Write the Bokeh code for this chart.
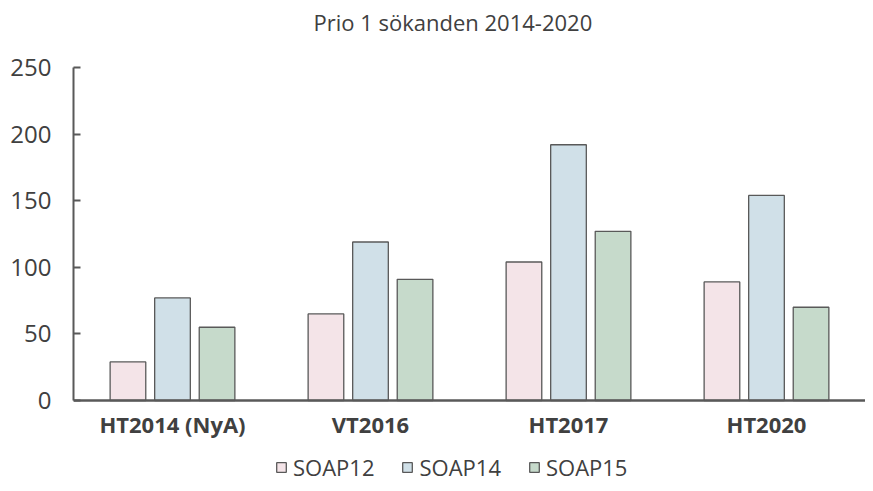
from bokeh.plotting import figure
from bokeh.models import ColumnDataSource, FactorRange, Legend, LegendItem, Range1d, Label
from bokeh.transform import dodge
from bokeh.embed import file_html
from bokeh.resources import INLINE

categories = ["HT2014 (NyA)", "VT2016", "HT2017", "HT2020"]
soap12 = [29, 65, 104, 89]
soap14 = [77, 119, 192, 154]
soap15 = [55, 91, 127, 70]
series_names = ["SOAP12", "SOAP14", "SOAP15"]
y_ticks = [0, 50, 100, 150, 200, 250]
title_text = "Prio 1 sökanden 2014-2020"

src = ColumnDataSource(dict(cat=categories, s12=soap12, s14=soap14, s15=soap15))

W, H = 865, 483
p = figure(width=W, height=H, x_range=FactorRange(*categories, range_padding=0),
           y_range=Range1d(-62.3, 300.3), output_backend="svg", toolbar_location=None,
           min_border_left=73, min_border_right=0, min_border_top=0, min_border_bottom=0)

FONT = "Open Sans"
TXT = "#404040"
LINE = "#595959"
fills = ["#F4E4E8", "#D0E0E8", "#C6DACB"]
cols = ["s12", "s14", "s15"]
offsets = [-0.225, 0.0, 0.225]
renderers = []
for c, f, o in zip(cols, fills, offsets):
    r = p.vbar(x=dodge("cat", o, range=p.x_range), top=c, width=0.18, source=src,
               fill_color=f, line_color=LINE, line_width=1.3)
    renderers.append(r)

title = Label(x=240, y=H - 21, x_units="screen", y_units="screen", text=title_text,
              text_font=FONT, text_font_size="22px", text_color=TXT,
              text_baseline="middle", text_align="left")
p.add_layout(title)

p.xgrid.visible = False
p.ygrid.visible = False
p.outline_line_color = None

p.yaxis.ticker = y_ticks
p.yaxis.bounds = (0, 250)
p.yaxis.major_label_text_font = FONT
p.yaxis.major_label_text_font_size = "24px"
p.yaxis.major_label_text_color = TXT
p.yaxis.axis_line_color = LINE
p.yaxis.axis_line_width = 2
p.yaxis.major_tick_line_color = LINE
p.yaxis.major_tick_line_width = 2
p.yaxis.major_tick_in = 7
p.yaxis.major_tick_out = 0
p.yaxis.minor_tick_line_color = None
p.yaxis.major_label_standoff = 22

p.xaxis.fixed_location = 0
p.xaxis.major_label_text_font = FONT
p.xaxis.major_label_text_font_size = "22px"
p.xaxis.major_label_text_font_style = "bold"
p.xaxis.major_label_text_color = TXT
p.xaxis.axis_line_color = LINE
p.xaxis.axis_line_width = 2.5
p.xaxis.major_tick_line_color = None
p.xaxis.major_tick_out = 0
p.xaxis.major_tick_in = 0
p.xaxis.minor_tick_line_color = None
p.xaxis.major_label_standoff = 8

legend = Legend(items=[LegendItem(label=n, renderers=[r]) for n, r in zip(series_names, renderers)],
                orientation="horizontal", location=(202, 1))
legend.label_text_font = FONT
legend.label_text_font_size = "22px"
legend.label_text_color = TXT
legend.glyph_width = 12
legend.glyph_height = 12
legend.label_standoff = 6
legend.spacing = 27
legend.border_line_color = None
legend.padding = 0
legend.margin = 0
legend.background_fill_alpha = 0
p.add_layout(legend, "center")

open("out.html", "w").write(file_html(p, INLINE))
